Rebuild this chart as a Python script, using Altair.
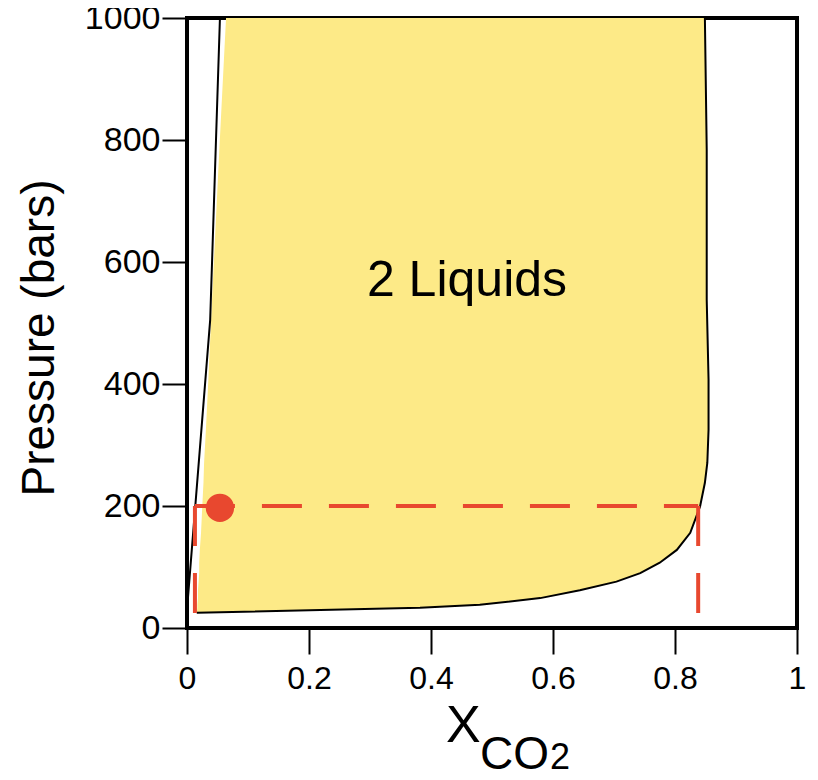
import altair as alt
import pandas as pd

# ---- data ----
# boundary of the two-liquid field: low-pressure limb then CO2-rich limb
bound_x = [0.016, 0.382, 0.480, 0.579, 0.644, 0.704, 0.743, 0.775, 0.803, 0.825,
           0.841, 0.849, 0.853, 0.855, 0.855, 0.852, 0.852, 0.849]
bound_p = [25, 33, 38, 49, 62, 76, 90, 107, 128, 156,
           199, 238, 271, 325, 407, 538, 784, 1000]
# left (H2O-rich) edge of the shaded field at the same pressures
fill_left = [0.016, 0.017, 0.017, 0.018, 0.018, 0.019, 0.020, 0.020, 0.021, 0.023,
             0.025, 0.027, 0.028, 0.031, 0.035, 0.041, 0.053, 0.064]
# H2O-rich limb drawn as a thin line
limb_x = [0.0, 0.038, 0.054]
limb_p = [30, 505, 1000]
# dashed red guide segments (start x, start p, end x, end p)
guide_x1 = [0.013, 0.013, 0.838]
guide_p1 = [200, 200, 200]
guide_x2 = [0.013, 0.838, 0.838]
guide_p2 = [20, 200, 20]
# red bulk-composition point
dot_x = [0.054]
dot_p = [197]
# field label
label_text = ["2 Liquids"]
label_x = [0.459]
label_p = [569]

x_ticks = [0, 0.2, 0.4, 0.6, 0.8, 1]
y_ticks = [0, 200, 400, 600, 800, 1000]

RED = "#E8482F"
YELLOW = "#FDEA87"
SANS = "Liberation Sans, Arial, Helvetica, sans-serif"

fill_df = pd.DataFrame({"p": bound_p, "left": fill_left, "right": bound_x})
bound_df = pd.DataFrame({"x": bound_x, "p": bound_p, "i": list(range(len(bound_x)))})
limb_df = pd.DataFrame({"x": limb_x, "p": limb_p, "i": list(range(len(limb_x)))})
guide_df = pd.DataFrame({"x1": guide_x1, "p1": guide_p1, "x2": guide_x2, "p2": guide_p2})
dot_df = pd.DataFrame({"x": dot_x, "p": dot_p})
label_df = pd.DataFrame({"x": label_x, "p": label_p, "t": label_text})

xscale = alt.Scale(domain=[0, 1], nice=False, zero=False)
yscale = alt.Scale(domain=[0, 1000], nice=False, zero=False)

xaxis = alt.Axis(values=x_ticks, format="~g", title=None, grid=False, domain=False,
                 tickSize=26, tickWidth=2, tickColor="black",
                 labelFont=SANS, labelFontSize=32, labelColor="black",
                 labelPadding=9, labelFlush=False, labelOverlap=False, labelBound=False)
yaxis = alt.Axis(values=y_ticks, format="d", title=None, grid=False, domain=False,
                 tickSize=25, tickWidth=2, tickColor="black",
                 labelFont=SANS, labelFontSize=34, labelColor="black",
                 labelPadding=2, labelFlush=False, labelOverlap=False, labelBound=False)

area = alt.Chart(fill_df).mark_area(orient="horizontal", color=YELLOW, opacity=1).encode(
    y=alt.Y("p:Q", scale=yscale, axis=yaxis),
    x=alt.X("left:Q", scale=xscale, axis=xaxis),
    x2="right:Q",
)

bound = alt.Chart(bound_df).mark_line(color="black", strokeWidth=2).encode(
    x=alt.X("x:Q", scale=xscale),
    y=alt.Y("p:Q", scale=yscale),
    order="i:Q",
)

limb = alt.Chart(limb_df).mark_line(color="black", strokeWidth=2).encode(
    x=alt.X("x:Q", scale=xscale),
    y=alt.Y("p:Q", scale=yscale),
    order="i:Q",
)

guide = alt.Chart(guide_df).mark_rule(color=RED, strokeWidth=4, strokeDash=[40, 27],
                                     strokeCap="butt").encode(
    x=alt.X("x1:Q", scale=xscale),
    y=alt.Y("p1:Q", scale=yscale),
    x2="x2:Q",
    y2="p2:Q",
)

dot = alt.Chart(dot_df).mark_circle(color=RED, size=800, opacity=1).encode(
    x=alt.X("x:Q", scale=xscale),
    y=alt.Y("p:Q", scale=yscale),
)

label = alt.Chart(label_df).mark_text(font=SANS, fontSize=50, color="black",
                                      align="center", baseline="middle").encode(
    x=alt.X("x:Q", scale=xscale),
    y=alt.Y("p:Q", scale=yscale),
    text="t:N",
)

one = pd.DataFrame({"a": [0]})
ytitle = alt.Chart(one).mark_text(text="Pressure (bars)", font=SANS, fontSize=46,
                                  color="black", angle=270, align="center",
                                  baseline="middle").encode(
    x=alt.value(-147), y=alt.value(320))
xt_x = alt.Chart(one).mark_text(text="X", font=SANS, fontSize=52, color="black",
                                align="left", baseline="alphabetic").encode(
    x=alt.value(259), y=alt.value(724))
xt_co = alt.Chart(one).mark_text(text="CO", font=SANS, fontSize=46, color="black",
                                 align="left", baseline="alphabetic").encode(
    x=alt.value(293), y=alt.value(751))
xt_2 = alt.Chart(one).mark_text(text="2", font=SANS, fontSize=36, color="black",
                                align="left", baseline="alphabetic").encode(
    x=alt.value(363), y=alt.value(751))

chart = alt.layer(area, bound, limb, guide, dot, label, ytitle, xt_x, xt_co, xt_2).properties(
    width=610, height=610,
    padding={"left": 179, "top": 10, "right": 10, "bottom": 143},
    autosize=alt.AutoSizeParams(type="none"),
).configure_view(stroke="black", strokeWidth=4)

chart.save("out.html", embed_options={"renderer": "svg", "actions": False})
